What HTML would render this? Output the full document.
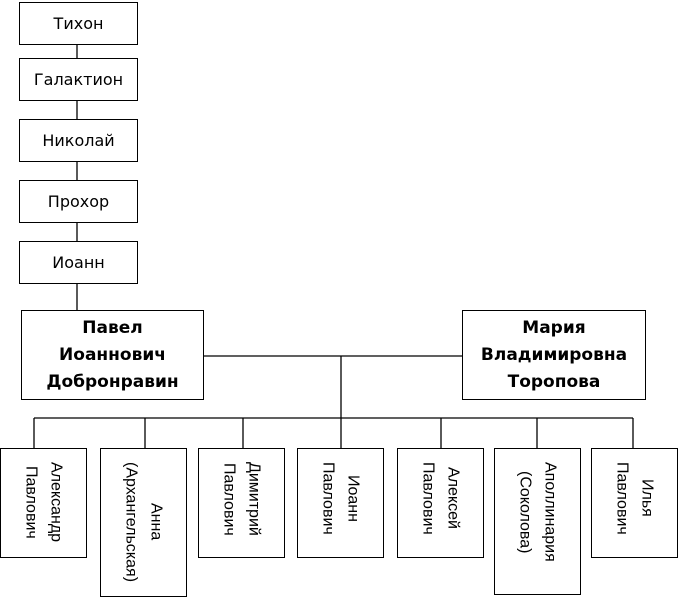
<!DOCTYPE html>
<html><head><meta charset="utf-8"><style>
body{margin:0;width:678px;height:597px;background:#fff;position:relative;overflow:hidden;font-family:"DejaVu Sans","Liberation Sans",sans-serif;color:#000}
.b{position:absolute;border:1.5px solid #000;box-sizing:border-box;background:#fff;display:flex;align-items:center;justify-content:center;text-align:center;font-size:16px}
.p{font-weight:bold;line-height:27px;font-size:17px}
.v{position:absolute;border:1.5px solid #000;box-sizing:border-box;background:#fff;font-family:"Liberation Sans",sans-serif;font-size:16px}
.v div{writing-mode:vertical-rl;text-align:center;line-height:25px;position:absolute;top:13px;left:50%;transform:translateX(-50%)}
svg{position:absolute;left:0;top:0}
</style></head><body>
<svg width="678" height="597"><g stroke="#000" stroke-width="1.3" fill="none">
<line x1="77" y1="44" x2="77" y2="310"/>
<line x1="203" y1="356" x2="463" y2="356"/>
<line x1="341" y1="356" x2="341" y2="448"/>
<line x1="34" y1="418" x2="633" y2="418"/>
<line x1="34" y1="418" x2="34" y2="448"/>
<line x1="145" y1="418" x2="145" y2="448"/>
<line x1="243" y1="418" x2="243" y2="448"/>
<line x1="441" y1="418" x2="441" y2="448"/>
<line x1="537" y1="418" x2="537" y2="448"/>
<line x1="633" y1="418" x2="633" y2="448"/>
</g></svg>
<div class="b" style="left:19px;top:2px;width:119px;height:43px">Тихон</div>
<div class="b" style="left:19px;top:58px;width:119px;height:43px">Галактион</div>
<div class="b" style="left:19px;top:119px;width:119px;height:43px">Николай</div>
<div class="b" style="left:19px;top:180px;width:119px;height:43px">Прохор</div>
<div class="b" style="left:19px;top:241px;width:119px;height:43px">Иоанн</div>
<div class="b p" style="left:21px;top:310px;width:183px;height:90px">Павел<br>Иоаннович<br>Добронравин</div>
<div class="b p" style="left:462px;top:310px;width:184px;height:90px">Мария<br>Владимировна<br>Торопова</div>
<div class="v" style="left:0;top:448px;width:87px;height:110px"><div>Александр<br>Павлович</div></div>
<div class="v" style="left:100px;top:448px;width:87px;height:149px"><div>Анна<br>(Архангельская)</div></div>
<div class="v" style="left:198px;top:448px;width:87px;height:110px"><div>Димитрий<br>Павлович</div></div>
<div class="v" style="left:297px;top:448px;width:87px;height:110px"><div>Иоанн<br>Павлович</div></div>
<div class="v" style="left:397px;top:448px;width:87px;height:110px"><div>Алексей<br>Павлович</div></div>
<div class="v" style="left:494px;top:448px;width:87px;height:147px"><div>Аполлинария<br>(Соколова)</div></div>
<div class="v" style="left:591px;top:448px;width:87px;height:110px"><div>Илья<br>Павлович</div></div>
</body></html>
